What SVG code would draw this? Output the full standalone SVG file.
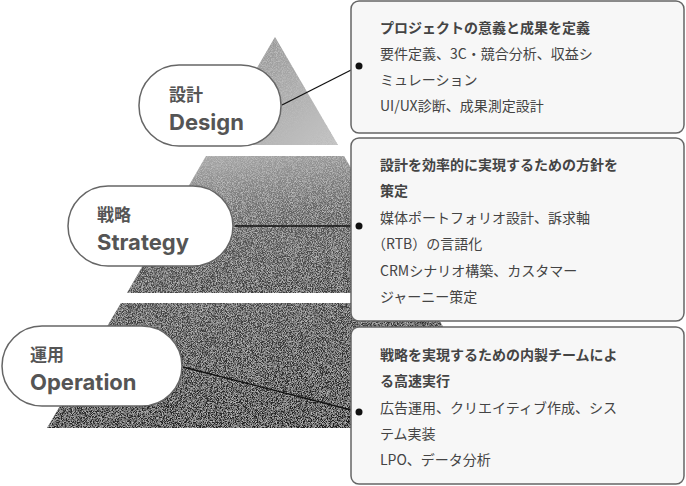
<svg xmlns="http://www.w3.org/2000/svg" width="686" height="486" viewBox="0 0 686 486">
<style>
.pill{fill:#fff;stroke:#666;stroke-width:1.5}
.pj{font-family:"Noto Sans CJK JP",sans-serif;font-weight:bold;font-size:17px;fill:#555}
.pe{font-family:"Inter","Liberation Sans",sans-serif;font-weight:bold;font-size:22px;fill:#555}
.box{fill:#f7f7f7;stroke:#666;stroke-width:1.5}
.t{font-family:"Noto Sans CJK JP",sans-serif;font-size:14px;fill:#444}
.b{font-weight:bold}
.ln{stroke:#111;stroke-width:1.3;fill:none}
</style>
<defs>
<linearGradient id="g1" x1="0" y1="0" x2="1" y2="1"><stop offset="0" stop-color="#888"/><stop offset="1" stop-color="#c8c8c8"/></linearGradient>
<linearGradient id="g2" x1="0.3" y1="0" x2="0.6" y2="1"><stop offset="0" stop-color="#a8a8a8"/><stop offset="0.5" stop-color="#5a5a5a"/><stop offset="1" stop-color="#3a3a3a"/></linearGradient>
<linearGradient id="g3" x1="0" y1="0" x2="0.5" y2="1"><stop offset="0" stop-color="#4a4a4a"/><stop offset="1" stop-color="#1e1e1e"/></linearGradient>
<filter id="noise" x="0" y="0" width="100%" height="100%">
<feTurbulence type="fractalNoise" baseFrequency="1.2" numOctaves="1" result="n"/>
<feColorMatrix in="n" type="matrix" values="0 0 0 0 0.5  0 0 0 0 0.5  0 0 0 0 0.5  0 0 0 3 -1.2" result="m"/>
<feComposite in="m" in2="SourceGraphic" operator="in" result="c"/>
<feMerge><feMergeNode in="SourceGraphic"/><feMergeNode in="c"/></feMerge>
</filter>
</defs>
<g id="pyramid" filter="url(#noise)">
<polygon points="275,37 338,145 212,145" fill="url(#g1)"/>
<polygon points="206,156 344,156 423,293 127,293" fill="url(#g2)"/>
<polygon points="121,303 429,303 503,428 47,428" fill="url(#g3)"/>
</g>
<g id="connectors">
<line class="ln" x1="282" y1="105" x2="359" y2="66"/>
<line class="ln" x1="235" y1="226" x2="359" y2="226"/>
<line class="ln" x1="183" y1="367" x2="359" y2="412"/>
</g>
<g id="box-design">
<rect class="box" x="351" y="1" width="333" height="132" rx="8"/>
<text class="t b" x="380" y="33">プロジェクトの意義と成果を定義</text>
<text class="t" x="380" y="59">要件定義、3C・競合分析、収益シ</text>
<text class="t" x="380" y="85">ミュレーション</text>
<text class="t" x="380" y="111">UI/UX診断、成果測定設計</text>
</g>
<g id="box-strategy">
<rect class="box" x="351" y="138" width="333" height="183" rx="8"/>
<text class="t b" x="380" y="170">設計を効率的に実現するための方針を</text>
<text class="t b" x="380" y="196">策定</text>
<text class="t" x="380" y="223">媒体ポートフォリオ設計、訴求軸</text>
<text class="t" x="372" y="249">（RTB）の言語化</text>
<text class="t" x="380" y="276">CRMシナリオ構築、カスタマー</text>
<text class="t" x="380" y="302">ジャーニー策定</text>
</g>
<g id="box-operation">
<rect class="box" x="351" y="327" width="333" height="157" rx="8"/>
<text class="t b" x="380" y="360">戦略を実現するための内製チームによ</text>
<text class="t b" x="380" y="386">る高速実行</text>
<text class="t" x="380" y="413">広告運用、クリエイティブ作成、シス</text>
<text class="t" x="380" y="439">テム実装</text>
<text class="t" x="380" y="465">LPO、データ分析</text>
</g>
<g id="dots">
<circle cx="359" cy="66" r="3.5" fill="#111"/>
<circle cx="359" cy="226" r="3.5" fill="#111"/>
<circle cx="359" cy="412" r="3.5" fill="#111"/>
</g>
<g id="node-design">
<rect class="pill" x="139" y="65" width="142" height="81" rx="40"/>
<text class="pj" x="169" y="101">設計</text>
<text class="pe" x="169" y="130">Design</text>
</g>
<g id="node-strategy">
<rect class="pill" x="68" y="186" width="165" height="80" rx="40"/>
<text class="pj" x="97" y="221">戦略</text>
<text class="pe" x="97" y="250">Strategy</text>
</g>
<g id="node-operation">
<rect class="pill" x="2" y="326" width="180" height="80" rx="40"/>
<text class="pj" x="30" y="361">運用</text>
<text class="pe" x="30" y="390">Operation</text>
</g>
</svg>
